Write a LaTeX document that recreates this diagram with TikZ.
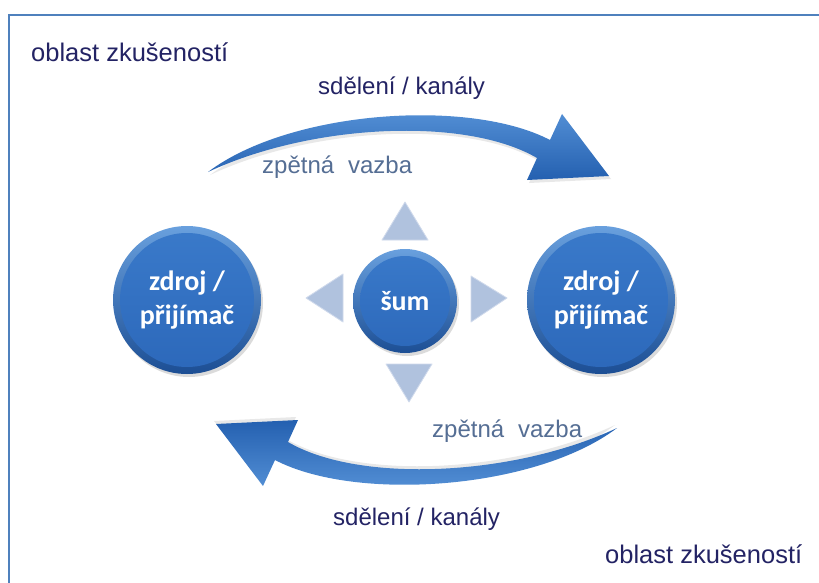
\documentclass[tikz,border=0pt]{standalone}
\usepackage{fontspec}
\setmainfont{Liberation Sans}
\newfontfamily\carlito{Carlito}
\usetikzlibrary{shadows}
\definecolor{frameblue}{RGB}{79,129,189}
\definecolor{navy}{RGB}{35,35,100}
\definecolor{fbgray}{RGB}{85,110,148}
\definecolor{arrlight}{RGB}{92,152,220}
\definecolor{arrdark}{RGB}{36,96,176}
\definecolor{discdark}{RGB}{28,78,148}
\definecolor{disclight}{RGB}{105,160,222}
\definecolor{disctop}{RGB}{58,122,202}
\definecolor{discbot}{RGB}{44,104,186}
\definecolor{trifill}{RGB}{176,194,222}
\definecolor{triedge}{RGB}{208,218,236}
\begin{document}
\begin{tikzpicture}[x=1pt,y=-1pt,
  txt/.style={inner sep=0pt, anchor=base west, font=\fontsize{24}{28}\selectfont},
  areatxt/.style={txt, font=\fontsize{25.5}{30}\selectfont, text=navy},
  msgtxt/.style={txt, text=navy},
  fbtxt/.style={txt, text=fbgray},
  disc/.style={circle, minimum size=#1, inner sep=0pt,
    top color=disclight, bottom color=discdark,
    drop shadow={opacity=0.28, shadow xshift=2pt, shadow yshift=-3pt},
    text=white, align=center,
    font=\carlito\bfseries\fontsize{28}{34}\selectfont,
    path picture={\shade[top color=disctop, bottom color=discbot]
      (path picture bounding box.center) circle ({#1/2-7pt});}},
  tri/.style={fill=trifill, draw=triedge, line width=0.8pt, line join=round},
  bigarrow/.style={line join=round},
]
\useasboundingbox (0,0) rectangle (819,583);
\fill[white] (0,0) rectangle (819,583);
\begin{scope}
  \clip (0,0) rectangle (819,583);
  \draw[frameblue, line width=2pt] (9,15) rectangle (845,610);
\end{scope}

% texts
\node[areatxt] (area1) at (31,62) {oblast zkušeností};
\node[areatxt] (area2) at (605,563) {oblast zkušeností};
\node[msgtxt] (msg1) at (318,95) {sdělení / kanály};
\node[msgtxt] (msg2) at (333,525) {sdělení / kanály};

% top arrow
\path[bigarrow, top color=arrlight, bottom color=arrdark,
  drop shadow={opacity=0.18, shadow xshift=2pt, shadow yshift=-3pt}]
  (208,172) .. controls (290,110) and (470,98) .. (550,140)
  -- (562,114) -- (609,176) -- (527,180) -- (537,158)
  .. controls (465,116) and (310,124) .. (208,172) -- cycle;
% bottom arrow (same shape turned half round)
\begin{scope}[rotate around={180:(412.5,300)}]
\path[bigarrow, top color=arrdark, bottom color=arrlight,
  drop shadow={opacity=0.18, shadow xshift=-2pt, shadow yshift=3pt}]
  (208,172) .. controls (290,110) and (470,98) .. (550,140)
  -- (562,114) -- (609,176) -- (527,180) -- (537,158)
  .. controls (465,116) and (310,124) .. (208,172) -- cycle;
\end{scope}

\node[fbtxt] (fb1) at (262,173) {zpětná\hspace{0.3em} vazba};
\node[fbtxt] (fb2) at (432,437) {zpětná\hspace{0.3em} vazba};

% noise triangles
\path[tri] (405,202) -- (428,240) -- (382,240) -- cycle;
\path[tri] (409,402) -- (432,364) -- (386,364) -- cycle;
\path[tri] (306,298) -- (343,274) -- (343,322) -- cycle;
\path[tri] (507,298) -- (471,276) -- (471,322) -- cycle;

% discs
\node[disc=148pt] (left) at (187,300) {zdroj /\\přijímač};
\node[disc=148pt] (right) at (601,300) {zdroj /\\přijímač};
\node[disc=104pt] (noise) at (405,301) {šum};
\end{tikzpicture}
\end{document}
